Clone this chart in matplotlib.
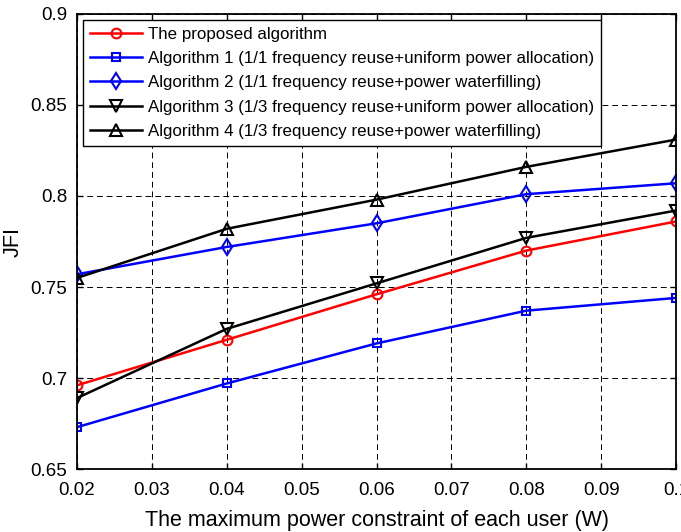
import numpy as np
import matplotlib.pyplot as plt

plt.rcParams['font.family'] = ['Liberation Sans', 'DejaVu Sans']

potencia = [0.02, 0.04, 0.06, 0.08, 0.1]

jfi_propuesto = [0.696, 0.721, 0.746, 0.770, 0.786]
jfi_alg1 = [0.673, 0.697, 0.719, 0.737, 0.744]
jfi_alg2 = [0.757, 0.772, 0.785, 0.801, 0.807]
jfi_alg3 = [0.689, 0.727, 0.752, 0.777, 0.792]
jfi_alg4 = [0.755, 0.782, 0.798, 0.816, 0.831]

etiquetas = [
    'The proposed algorithm',
    'Algorithm 1 (1/1 frequency reuse+uniform power allocation)',
    'Algorithm 2 (1/1 frequency reuse+power waterfilling)',
    'Algorithm 3 (1/3 frequency reuse+uniform power allocation)',
    'Algorithm 4 (1/3 frequency reuse+power waterfilling)',
]

fig = plt.figure(figsize=(6.81, 5.32), dpi=100)
ax = fig.add_axes([0.1131, 0.1184, 0.8796, 0.8553])

estilo = dict(lw=1.8, markersize=7, markerfacecolor='none', markeredgewidth=1.5)
ax.plot(potencia, jfi_propuesto, color='red', marker='o', label=etiquetas[0], **estilo)
ax.plot(potencia, jfi_alg1, color='blue', marker='s', label=etiquetas[1], **dict(estilo, markersize=6))
ax.plot(potencia, jfi_alg2, color='blue', marker='d', label=etiquetas[2], **dict(estilo, markersize=8.5))
ax.plot(potencia, jfi_alg3, color='black', marker='v', label=etiquetas[3], **dict(estilo, markersize=8))
ax.plot(potencia, jfi_alg4, color='black', marker='^', label=etiquetas[4], **dict(estilo, markersize=8))

ax.set_xlim(0.02, 0.1)
ax.set_ylim(0.65, 0.9)
ax.set_xticks(np.arange(0.02, 0.1001, 0.01))
ax.set_xticklabels(['0.02', '0.03', '0.04', '0.05', '0.06', '0.07', '0.08', '0.09', '0.1'])
ax.set_yticks([0.65, 0.7, 0.75, 0.8, 0.85, 0.9])
ax.set_yticklabels(['0.65', '0.7', '0.75', '0.8', '0.85', '0.9'])
ax.tick_params(direction='in', top=True, right=True, labelsize=13.5, length=4, width=1)
ax.tick_params(axis='x', pad=9.5)
ax.tick_params(axis='y', pad=7)
ax.grid(True, color='black', linestyle=(0, (6, 4)), lw=0.7)
for s in ax.spines.values():
    s.set_linewidth(1.3)

ax.set_xlabel('The maximum power constraint of each user (W)', fontsize=15.5)
ax.set_ylabel('JFI', fontsize=15.5)
ax.xaxis.set_label_coords(0.5, -0.090)
ax.yaxis.set_label_coords(-0.0885, 0.5)

leg = ax.legend(loc='upper left', fontsize=12.2, frameon=True, fancybox=False,
                edgecolor='black', framealpha=1, borderpad=0.4, labelspacing=0.55,
                handlelength=3.07, handletextpad=0.35, borderaxespad=0.35)
leg.get_frame().set_linewidth(1.0)

plt.savefig('out.png', dpi=100)
plt.close()
